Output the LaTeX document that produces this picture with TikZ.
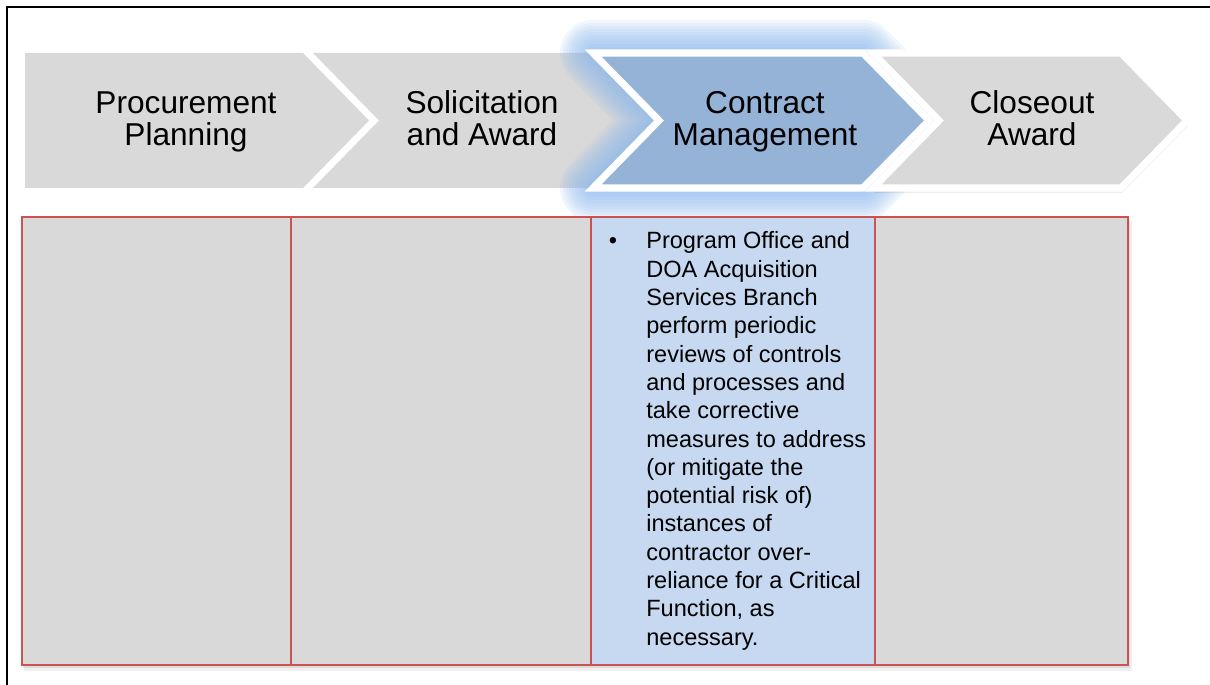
\documentclass[tikz,border=0pt]{standalone}
\usepackage{fontspec}
\setmainfont{Liberation Sans}
\usepackage{xcolor}
\usetikzlibrary{calc}

\definecolor{chevgray}{HTML}{D9D9D9}
\definecolor{chevblue}{HTML}{95B3D7}
\definecolor{glowblue}{HTML}{8DB8EC}
\definecolor{cellblue}{HTML}{C6D9F1}
\definecolor{cellred}{HTML}{CC5252}

% one chevron of the process row: left x, right x, depth of the notch
\newcommand{\chevpath}[4][]{%
  \path[#1] (#2,53) -- (#3,53) -- ({#3+66},120.5) -- (#3,188)
    -- (#2,188) -- ({#2+#4},120.5) -- cycle;}

\begin{document}
\begin{tikzpicture}[x=0.02cm, y=-0.02cm,
    phase/.style={font=\fontsize{18}{18.2}\selectfont, text width=5cm,
      align=flush center, inner sep=0pt},
    note/.style={font=\fontsize{13.4}{16.1}\selectfont, text width=4.7cm,
      align=flush left, inner sep=0pt},
    cell/.style={draw=cellred, line width=0.85pt}]
  \useasboundingbox (0,0) rectangle (1210,685);

  % page frame
  \draw[line width=1.1pt] (7,685) -- (7,7) -- (1210,7);

  % process row
  \chevpath[fill=chevgray]{25}{303}{0}
  \chevpath[fill=chevgray]{313}{591}{66}
  % glow round the current phase
  \foreach \w in {66,60,...,6} {
    \chevpath[draw=glowblue, draw opacity=0.12, line width=\w*0.569pt,
      line join=round]{593}{863}{66}
  }
  \chevpath[fill=chevblue, draw=white, line width=4pt]{593}{863}{66}
  % last phase, with its shadow
  \chevpath[fill=black, opacity=0.07, shift={(1,5)}]{873}{1121}{66}
  \chevpath[fill=black, opacity=0.07, shift={(0,3)}]{873}{1121}{66}
  \chevpath[fill=chevgray, draw=white, line width=4pt]{873}{1121}{66}

  \node[phase, anchor=base] (plan) at (186,114) {Procurement\\Planning};
  \node[phase, anchor=base] (solicit) at (482,114) {Solicitation\\and Award};
  \node[phase, anchor=base] (manage) at (765,114) {Contract\\Management};
  \node[phase, anchor=base] (closeout) at (1032,114) {Closeout\\Award};

  % cells under the phases
  \fill[black, opacity=0.06] (24,221) rectangle (1132,671);
  \fill[black, opacity=0.08] (23,219) rectangle (1130,668);
  \draw[cell, fill=chevgray] (22,217) rectangle (291,665);
  \draw[cell, fill=chevgray] (291,217) rectangle (591,665);
  \draw[cell, fill=chevgray] (875,217) rectangle (1128,665);
  \draw[cell, fill=cellblue] (591,217) rectangle (875,665);

  \node[anchor=base, font=\fontsize{13.4}{16.1}\selectfont] (dot) at (613,249) {\textbullet};
  \node[note, anchor=base west] (review) at (646,249) {Program Office and\\
    DOA Acquisition\\
    Services Branch\\
    perform periodic\\
    reviews of controls\\
    and processes and\\
    take corrective\\
    measures to address\\
    (or mitigate the\\
    potential risk of)\\
    instances of\\
    contractor over-\\
    reliance for a Critical\\
    Function, as\\
    necessary.};
\end{tikzpicture}
\end{document}
